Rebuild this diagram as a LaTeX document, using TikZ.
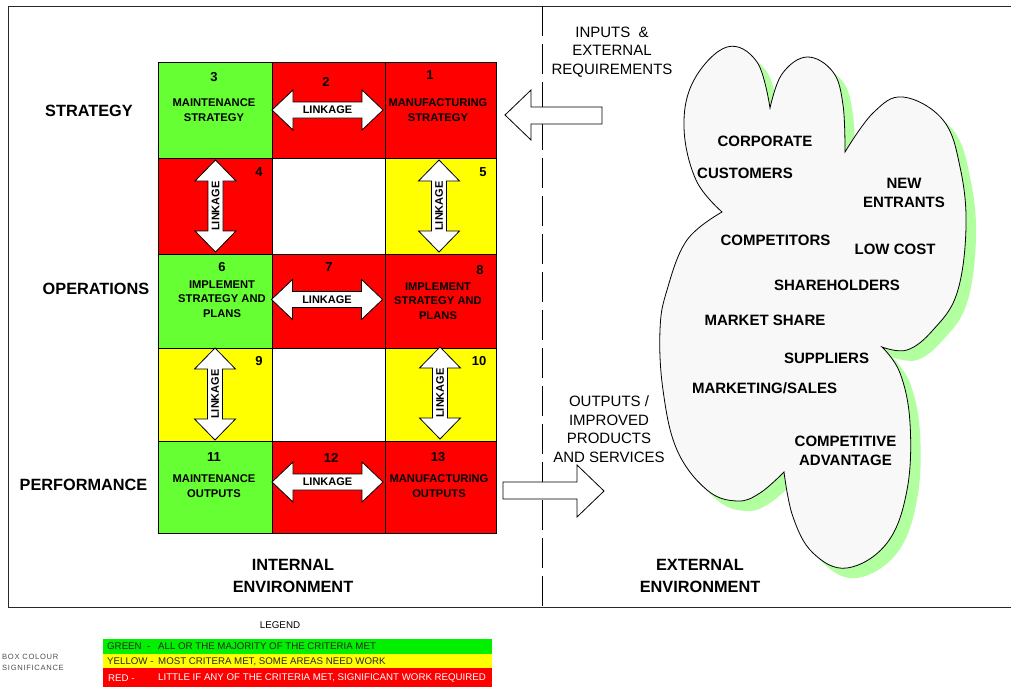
\documentclass[tikz,border=0pt]{standalone}
\usepackage{fontspec}
\setmainfont{Liberation Sans}
\newfontfamily\spacedfont[LetterSpace=9]{Liberation Sans}
\definecolor{cgreen}{RGB}{102,255,51}
\definecolor{cred}{RGB}{255,0,0}
\definecolor{cyellow}{RGB}{255,255,0}
\definecolor{lgreen}{RGB}{0,240,0}
\definecolor{shadowgreen}{RGB}{178,255,160}
\definecolor{cloudfill}{RGB}{248,248,248}
\definecolor{framegray}{RGB}{40,40,40}
\tikzset{
  cellbox/.style={draw=black,line width=0.8pt},
  numtext/.style={font=\fontsize{13}{15}\selectfont\bfseries,inner sep=0pt},
  celltext/.style={font=\fontsize{11.2}{14.5}\selectfont\bfseries,align=center,inner sep=0pt},
  linktext/.style={font=\fontsize{11}{12}\selectfont\bfseries,inner sep=0pt},
  sidelabel/.style={font=\fontsize{16.3}{19}\selectfont\bfseries,inner sep=0pt},
  envlabel/.style={font=\fontsize{16.3}{21.5}\selectfont\bfseries,align=center,inner sep=0pt},
  cloudtext/.style={font=\fontsize{15}{19}\selectfont\bfseries,align=center,inner sep=0pt},
  iotext/.style={font=\fontsize{15}{18.5}\selectfont,align=center,inner sep=0pt},
  blockarrow/.style={fill=white,draw=black,line width=0.8pt,line join=miter},
  legtext/.style={font=\fontsize{9.7}{11}\selectfont,inner sep=0pt,anchor=west},
  harrow/.pic={
    \filldraw[blockarrow] (-55.5,0) -- (-34.5,-20) -- (-34.5,-8) -- (34.5,-8) -- (34.5,-20)
      -- (55.5,0) -- (34.5,20) -- (34.5,8) -- (-34.5,8) -- (-34.5,20) -- cycle;
    \node[linktext] (t) at (0,0) {LINKAGE};},
  varrow/.pic={
    \filldraw[blockarrow] (0,-46) -- (20.5,-25) -- (7.5,-25) -- (7.5,25) -- (20.5,25)
      -- (0,46) -- (-20.5,25) -- (-7.5,25) -- (-7.5,-25) -- (-20.5,-25) -- cycle;
    \node[linktext,rotate=90] (t) at (0,0) {LINKAGE};}
}
\def\cloudpath{(722,212)
  -- plot[smooth,tension=0.65] coordinates {(722,212) (696,180) (684,127) (694,80) (727,47) (757,62) (770,108)}
  -- plot[smooth,tension=0.65] coordinates {(770,108) (782,74) (807,57) (833,72) (843,105) (845,152)}
  -- plot[smooth,tension=0.65] coordinates {(845,152) (873,113) (903,97) (943,120) (960,167) (966,227) (957,293) (933,330) (907,350) (882,347)}
  -- plot[smooth,tension=0.65] coordinates {(882,347) (900,373) (910,423) (907,490) (887,543) (847,568) (813,553) (793,517) (784,472)}
  -- plot[smooth,tension=0.65] coordinates {(784,472) (760,493) (737,501) (707,490) (677,450) (663,390) (660,330) (667,290) (687,240) (722,212)}
  -- cycle}
\begin{document}
\begin{tikzpicture}[x=1pt,y=-1pt]
\useasboundingbox (0,0) rectangle (1011,688);
% frame
\draw[framegray,line width=0.9pt] (1013,6) -- (8,6) -- (8,607) -- (1013,607);
\draw[black,line width=1pt,dash pattern=on 30pt off 8pt] (542,6) -- (542,607);
% grid cells
\path[cellbox,fill=cgreen]  (158,62) rectangle (272,158);
\path[cellbox,fill=cred]    (272,62) rectangle (385,158);
\path[cellbox,fill=cred]    (385,62) rectangle (496,158);
\path[cellbox,fill=cred]    (158,158) rectangle (272,254);
\path[cellbox,fill=white]   (272,158) rectangle (385,254);
\path[cellbox,fill=cyellow] (385,158) rectangle (496,254);
\path[cellbox,fill=cgreen]  (158,254) rectangle (272,348);
\path[cellbox,fill=cred]    (272,254) rectangle (385,348);
\path[cellbox,fill=cred]    (385,254) rectangle (496,348);
\path[cellbox,fill=cyellow] (158,348) rectangle (272,441);
\path[cellbox,fill=white]   (272,348) rectangle (385,441);
\path[cellbox,fill=cyellow] (385,348) rectangle (496,441);
\path[cellbox,fill=cgreen]  (158,441) rectangle (272,533);
\path[cellbox,fill=cred]    (272,441) rectangle (385,533);
\path[cellbox,fill=cred]    (385,441) rectangle (496,533);
% numbers
\node[numtext] (n3) at (214,77.5) {3};
\node[numtext] (n2) at (326,81.5) {2};
\node[numtext] (n1) at (430,75.5) {1};
\node[numtext] (n4) at (259,172.5) {4};
\node[numtext] (n5) at (483,172.5) {5};
\node[numtext] (n6) at (222,267.5) {6};
\node[numtext] (n7) at (329,267.5) {7};
\node[numtext] (n8) at (480,270.5) {8};
\node[numtext] (n9) at (259,361) {9};
\node[numtext] (n10) at (479,361) {10};
\node[numtext] (n11) at (214,457.5) {11};
\node[numtext] (n12) at (331,457.5) {12};
\node[numtext] (n13) at (438,457.5) {13};
% cell texts
\node[celltext] (t3) at (214,110) {MAINTENANCE\\STRATEGY};
\node[celltext] (t1) at (438,110) {MANUFACTURING\\STRATEGY};
\node[celltext] (t6) at (222,299) {IMPLEMENT\\STRATEGY AND\\PLANS};
\node[celltext] (t8) at (438,301) {IMPLEMENT\\STRATEGY AND\\PLANS};
\node[celltext] (t11) at (214,486) {MAINTENANCE\\OUTPUTS};
\node[celltext] (t13) at (439,486) {MANUFACTURING\\OUTPUTS};
% linkage arrows
\pic (a2) at (327.5,110) {harrow};
\pic (a7) at (327,299.5) {harrow};
\pic (a12) at (327.5,482) {harrow};
\pic (a4) at (215.5,206) {varrow};
\pic (a5) at (439,206) {varrow};
\pic (a9) at (215,394) {varrow};
\pic (a10) at (440,393) {varrow};
% side labels
\node[sidelabel] (lstrat) at (89,111) {STRATEGY};
\node[sidelabel] (lops) at (96,288.5) {OPERATIONS};
\node[sidelabel] (lperf) at (83.5,484.5) {PERFORMANCE};
\node[envlabel] (lint) at (293,576) {INTERNAL\\ENVIRONMENT};
\node[envlabel] (lext) at (700,576) {EXTERNAL\\ENVIRONMENT};
% input / output block arrows
\filldraw[blockarrow] (505,115) -- (531,90) -- (531,107) -- (602,107) -- (602,124) -- (531,124) -- (531,140) -- cycle;
\filldraw[blockarrow] (503,482) -- (577,482) -- (577,465) -- (604,491) -- (577,517) -- (577,499) -- (503,499) -- cycle;
\node[iotext] (inp) at (612,52) {INPUTS \ \&\\EXTERNAL\\REQUIREMENTS};
\node[iotext] (outp) at (609,429) {OUTPUTS /\\IMPROVED\\PRODUCTS\\AND SERVICES};
% cloud
\fill[shadowgreen,shift={(10,10)}] \cloudpath;
\filldraw[fill=cloudfill,draw=black,line width=0.8pt] \cloudpath;
\node[cloudtext] (corp) at (765,141) {CORPORATE};
\node[cloudtext] (cust) at (745,173.5) {CUSTOMERS};
\node[cloudtext] (newe) at (904,193) {NEW\\ENTRANTS};
\node[cloudtext] (comp) at (775.5,240.5) {COMPETITORS};
\node[cloudtext] (lowc) at (895,249.5) {LOW COST};
\node[cloudtext] (shar) at (837,285.5) {SHAREHOLDERS};
\node[cloudtext] (mshr) at (765,320.5) {MARKET SHARE};
\node[cloudtext] (supp) at (826.5,358.5) {SUPPLIERS};
\node[cloudtext] (mkts) at (764.5,388.5) {MARKETING/SALES};
\node[cloudtext] (cadv) at (845.5,450.5) {COMPETITIVE\\ADVANTAGE};
% legend
\node[font=\fontsize{9.8}{11}\selectfont,inner sep=0pt] (leg) at (280,625) {LEGEND};
\node[font=\fontsize{7.6}{11}\spacedfont,text=black!70,align=left,anchor=west,inner sep=0pt] (boxc) at (2,662.5) {BOX COLOUR\\SIGNIFICANCE};
\fill[lgreen] (103,639) rectangle (492,654);
\fill[cyellow] (103,654) rectangle (492,668);
\fill[cred] (103,668) rectangle (492,687);
\node[legtext,text=black!85] (g1) at (107,646.5) {GREEN \ -};
\node[legtext,text=black!85] (g2) at (158,646.5) {ALL OR THE MAJORITY OF THE CRITERIA MET};
\node[legtext,text=black!85] (y1) at (107,661.5) {YELLOW -};
\node[legtext,text=black!85] (y2) at (158,661.5) {MOST CRITERA MET, SOME AREAS NEED WORK};
\node[legtext,text=white] (r1) at (108,678) {RED -};
\node[legtext,text=white] (r2) at (158,678) {LITTLE IF ANY OF THE CRITERIA MET, SIGNIFICANT WORK REQUIRED};
\end{tikzpicture}
\end{document}
